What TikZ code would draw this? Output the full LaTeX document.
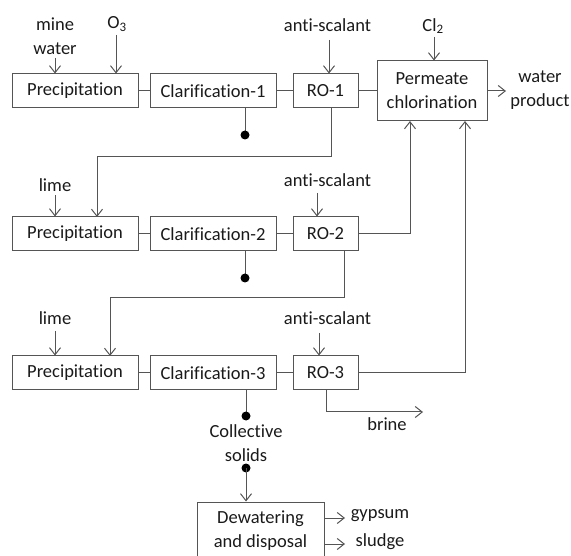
\documentclass[tikz,border=0pt]{standalone}
\usepackage{fontspec}
\setmainfont[Ligatures=NoCommon]{Carlito}
\usetikzlibrary{arrows.meta}
\definecolor{ln}{HTML}{555555}
\definecolor{tx}{HTML}{1A1A1A}
\begin{document}
\begin{tikzpicture}[x=1pt,y=-1pt,
  every node/.style={text=tx,font=\fontsize{18.5}{24}\selectfont},
  box/.style={draw=ln,line width=1pt,minimum height=34pt,inner sep=0pt},
  pbox/.style={box,minimum width=126pt},
  cbox/.style={box,minimum width=126pt},
  rbox/.style={box,minimum width=65pt},
  lbl/.style={inner sep=0pt,align=center},
  ln/.style={draw=ln,line width=1pt},
  arr/.style={ln,-{Straight Barb[length=7pt,width=11pt]}},
  dot/.style={circle,fill=black,inner sep=0pt,minimum size=9pt}]
\useasboundingbox (0,0) rectangle (571,556);
% row 1
\node[pbox] (p1) at (75,91) {Precipitation};
\node[cbox] (c1) at (213,91) {Clarification-1};
\node[rbox] (r1) at (325.5,91) {RO-1};
\node[box,minimum width=110pt,minimum height=60pt,align=center] (pc) at (432,91) {Permeate\\chlorination};
% row 2
\node[pbox] (p2) at (75,234) {Precipitation};
\node[cbox] (c2) at (213,234) {Clarification-2};
\node[rbox] (r2) at (325.5,234) {RO-2};
% row 3
\node[pbox] (p3) at (75,373) {Precipitation};
\node[cbox] (c3) at (213,373) {Clarification-3};
\node[rbox] (r3) at (325.5,373) {RO-3};
% dewatering
\node[box,minimum width=127pt,minimum height=62pt,align=center,text depth=0pt] (dw) at (260.5,533) {};
\node[lbl] (dwt) at (260.5,531) {Dewatering\\and disposal};
% labels
\node[lbl] (mw) at (55,36) {mine\\water};
\node[lbl] (o3) at (117,24) {O\textsubscript{3}};
\node[lbl] (as1) at (327.5,25) {anti-scalant};
\node[lbl] (cl) at (433,26) {Cl\textsubscript{2}};
\node[lbl] (wp) at (540,90) {water\\product};
\node[lbl] (l2) at (55,185) {lime};
\node[lbl] (as2) at (327.5,180) {anti-scalant};
\node[lbl] (l3) at (55,318) {lime};
\node[lbl] (as3) at (327.5,318) {anti-scalant};
\node[lbl] (cs) at (246,443) {Collective\\solids};
\node[lbl] (br) at (387,424) {brine};
\node[lbl] (gy) at (380,516) {gypsum};
\node[lbl] (sl) at (380,542) {sludge};
% coordinates
\coordinate (a1) at (55,58);
\coordinate (a2) at (116,35);
\coordinate (a3) at (329,40);
\coordinate (a4) at (434,37);
\coordinate (a5) at (55,195);
\coordinate (a6) at (317,193);
\coordinate (a7) at (55,331);
\coordinate (a8) at (319,333);
\coordinate (wpa) at (506,91);
\coordinate (d1) at (245,135);
\coordinate (d2) at (245,278);
\coordinate (d3) at (246,416);
\coordinate (d4) at (246,468);
\coordinate (k1) at (331,157);
\coordinate (q2) at (97,217);
\coordinate (k2) at (344,298);
\coordinate (q3) at (110,356);
\coordinate (pa) at (410,121);
\coordinate (pb) at (465,121);
\coordinate (k3) at (326,412);
\coordinate (bre) at (423,412);
\coordinate (g1) at (345,518);
\coordinate (s1) at (345,544);
% series connectors
\draw[ln] (p1) -- (c1); \draw[ln] (c1) -- (r1); \draw[ln] (r1.east) -- (pc.west |- r1.east);
\draw[ln] (p2) -- (c2); \draw[ln] (c2) -- (r2);
\draw[ln] (p3) -- (c3); \draw[ln] (c3) -- (r3);
\draw[arr] (pc.east) -- (wpa);
% feeds
\draw[arr] (a1) -- (a1 |- p1.north);
\draw[arr] (a2) -- (a2 |- p1.north);
\draw[arr] (a3) -- (a3 |- r1.north);
\draw[arr] (a4) -- (a4 |- pc.north);
\draw[arr] (a5) -- (a5 |- p2.north);
\draw[arr] (a6) -- (a6 |- r2.north);
\draw[arr] (a7) -- (a7 |- p3.north);
\draw[arr] (a8) -- (a8 |- r3.north);
% concentrate lines
\draw[arr] (r1.south -| k1) -- (k1) -| (q2);
\draw[arr] (r2.south -| k2) -- (k2) -| (q3);
\draw[arr] (r2.east) -| (pa);
\draw[arr] (r3.east) -| (pb);
\draw[arr] (r3.south -| k3) -- (k3) -- (bre);
% solids
\draw[ln] (c1.south -| d1) -- (d1); \node[dot] (dd1) at (d1) {};
\draw[ln] (c2.south -| d2) -- (d2); \node[dot] (dd2) at (d2) {};
\draw[ln] (c3.south -| d3) -- (d3); \node[dot] (dd3) at (d3) {};
\node[dot] (dd4) at (d4) {};
\draw[arr] (d4) -- (d4 |- dw.north);
\draw[arr] (dw.east |- g1) -- (g1);
\draw[arr] (dw.east |- s1) -- (s1);
\end{tikzpicture}
\end{document}
